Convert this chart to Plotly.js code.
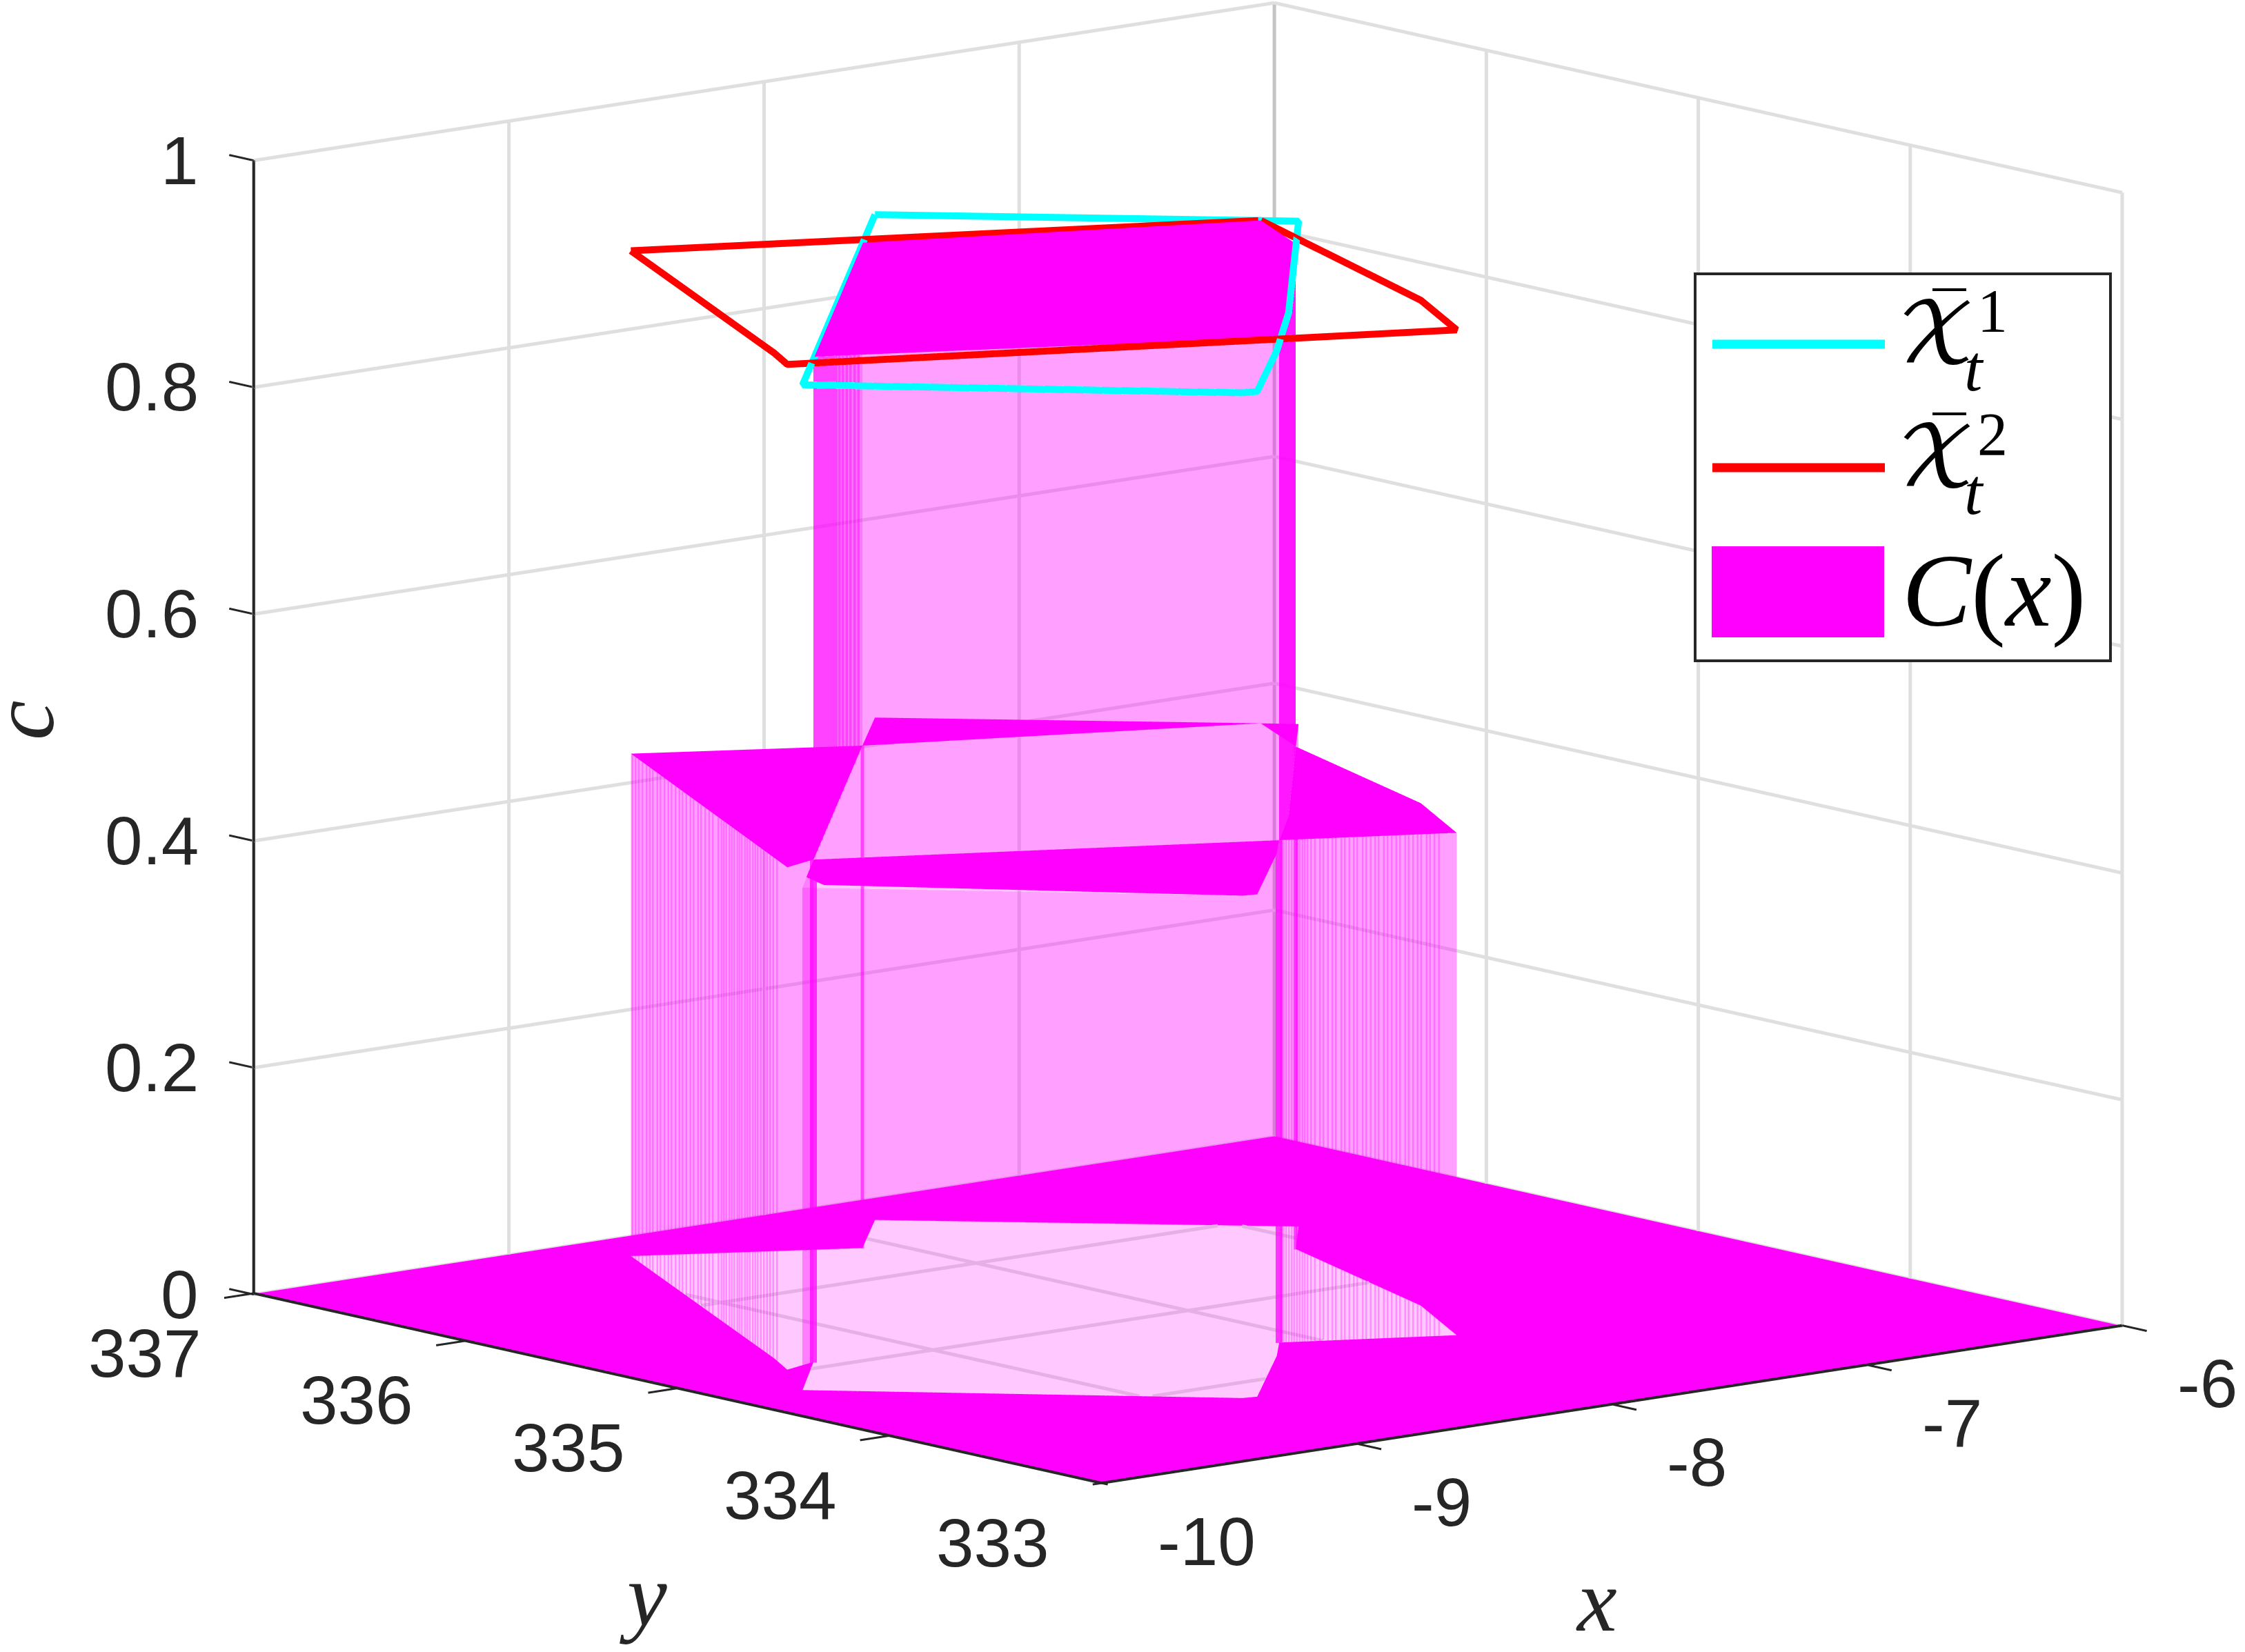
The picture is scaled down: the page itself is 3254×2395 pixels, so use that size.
<!DOCTYPE html>
<html><head><meta charset="utf-8">
<script src="https://cdn.plot.ly/plotly-3.0.1.min.js"></script>
<style>html,body{margin:0;padding:0;background:#fff}</style></head>
<body><div id="chart" style="width:3254px;height:2395px"></div>
<script>
const W=3254,H=2395;
const xTicks=[-10,-9,-8,-7,-6], xLabels=['-10','-9','-8','-7','-6'];
const yTicks=[333,334,335,336,337], yLabels=['333','334','335','336','337'];
const zTicks=[0,0.2,0.4,0.6,0.8,1], zLabels=['0','0.2','0.4','0.6','0.8','1'];
const topLevel=0.887, midLevel=0.4435, floorLevel=0.0005, axisLevel=0.001;
const redX=[-8.733,-9.461,-9.548,-7.638,-7.414,-6.958];
const redY=[336.746,335.193,335.027,334.168,334.607,335.911];
const cyanX=[-7.793,-6.878,-7.849,-8.270,-8.738,-8.786,-9.724];
const cyanY=[336.726,335.829,334.707,334.256,333.785,333.796,334.743];
const plateauX=[-8.113,-6.958,-7.118,-7.849,-8.126,-9.407];
const plateauY=[336.400,335.911,335.553,334.707,334.418,335.073];
const unionX=[-8.733,-8.113,-7.793,-6.878,-7.118,-7.414,-7.638,-8.126,-8.270,-8.738,-8.786,-9.724,-9.407,-9.548,-9.461];
const unionY=[336.746,336.400,336.726,335.829,335.553,334.607,334.168,334.418,334.256,333.785,333.796,334.743,335.073,335.027,335.193];
const midLeftX=[-8.733,-8.113,-9.407,-9.548,-9.461], midLeftY=[336.746,336.400,335.073,335.027,335.193];
const midBackX=[-6.958,-7.118,-6.878,-7.793,-8.113], midBackY=[335.911,335.553,335.829,336.726,336.400];
const midRightX=[-7.638,-8.126,-7.849,-7.118,-7.414], midRightY=[334.168,334.418,334.707,335.553,334.607];
const midFrontX=[-9.407,-8.126,-8.270,-8.738,-8.786,-9.646,-9.606], midFrontY=[335.073,334.418,334.256,333.785,333.796,334.737,334.867];
const floorX=[-10,-10,-6,-6], floorY=[337,333,333,337];
const leftStripes=[.01,.03,.05,.075,.1,.12,.14,.17,.19,.215,.24,.26,.285,.31,.33,.355,.38,.4,.43,.45,.475,.5,.525,.56,.58,.595,.61,.63,.645,.66,.68,.695,.71,.73,.745,.76,.78,.795,.81,.83,.85,.87,.89,.91,.935];
const rightStripes=[.1,.125,.15,.17,.2,.22,.245,.27,.29,.32,.34,.365,.39,.41,.44,.46,.485,.51,.53,.56,.58,.605,.63,.65,.68,.7,.725,.75,.77,.8,.82,.84,.855,.87,.885,.9,.915,.93,.945,.96,.975,.99];
const towerStripes=[.02,.07,.12,.17,.22,.27,.32,.37,.42,.47,.53,.6,.68,.76,.84,.92];
const tickReach=0.116;

function closed(a){return a.concat([a[0]]);}
function addFan(m,xs,ys,z){const b=m.x.length;xs.forEach((v,n)=>{m.x.push(v);m.y.push(ys[n]);m.z.push(z);});
  for(let n=1;n<xs.length-1;n++){m.i.push(b);m.j.push(b+n);m.k.push(b+n+1);}}
function addWall(m,xs,ys,z0,z1,loop){const b=m.x.length,n=xs.length;
  xs.forEach((v,q)=>{m.x.push(v,v);m.y.push(ys[q],ys[q]);m.z.push(z0,z1);});
  for(let q=0;q<(loop?n:n-1);q++){const r=(q+1)%n;m.i.push(b+2*q,b+2*q+1);m.j.push(b+2*q+1,b+2*r+1);m.k.push(b+2*r,b+2*r);}}
const cross=(a,b,c)=>(b[0]-a[0])*(c[1]-a[1])-(b[1]-a[1])*(c[0]-a[0]);
const same=(a,b)=>a[0]===b[0]&&a[1]===b[1];
function addFloorWithHole(m,ox,oy,hx,hy,z){
  const poly=[];ox.forEach((v,n)=>poly.push([v,oy[n]]));poly.push([ox[0],oy[0]]);
  hx.forEach((v,n)=>poly.push([v,hy[n]]));poly.push([hx[0],hy[0]]);
  const b=m.x.length;poly.forEach(p=>{m.x.push(p[0]);m.y.push(p[1]);m.z.push(z);});
  let idx=poly.map((_,n)=>n),guard=0;
  while(idx.length>3&&guard++<2000){let done=false;
    for(let n=0;n<idx.length;n++){
      const ia=idx[(n+idx.length-1)%idx.length],ib=idx[n],ic=idx[(n+1)%idx.length];
      const a=poly[ia],c=poly[ib],d=poly[ic];
      if(cross(a,c,d)<=1e-9)continue;
      const bad=idx.some(q=>{const v=poly[q];if(same(v,a)||same(v,c)||same(v,d))return false;
        return cross(a,c,v)>=0&&cross(c,d,v)>=0&&cross(d,a,v)>=0;});
      if(bad)continue;
      m.i.push(b+ia);m.j.push(b+ib);m.k.push(b+ic);idx.splice(n,1);done=true;break;}
    if(!done)break;}
  if(idx.length===3){m.i.push(b+idx[0]);m.j.push(b+idx[1]);m.k.push(b+idx[2]);}
}
function insideUnion(x,y){let c=false;const n=unionX.length;for(let a=0,b=n-1;a<n;b=a++){
  if((unionY[a]>y)!==(unionY[b]>y)&&x<(unionX[b]-unionX[a])*(y-unionY[a])/(unionY[b]-unionY[a])+unionX[a])c=!c;}return c;}
function clipToHole(x0,y0,x1,y1){const ts=[0,1],n=unionX.length;
  for(let a=0;a<n;a++){const b=(a+1)%n,dx=x1-x0,dy=y1-y0,ex=unionX[b]-unionX[a],ey=unionY[b]-unionY[a],den=dx*ey-dy*ex;
    if(Math.abs(den)<1e-12)continue;
    const t=((unionX[a]-x0)*ey-(unionY[a]-y0)*ex)/den,u=((unionX[a]-x0)*dy-(unionY[a]-y0)*dx)/den;
    if(t>0&&t<1&&u>=0&&u<=1)ts.push(t);}
  ts.sort((p,q)=>p-q);const out=[];
  for(let e=0;e<ts.length-1;e++){const tm=(ts[e]+ts[e+1])/2;
    if(insideUnion(x0+(x1-x0)*tm,y0+(y1-y0)*tm))out.push([x0+(x1-x0)*ts[e],y0+(y1-y0)*ts[e],0,x0+(x1-x0)*ts[e+1],y0+(y1-y0)*ts[e+1],0]);}
  return out;}
function meshTrace(m,op,name){return Object.assign({type:'mesh3d',color:'#ff00ff',opacity:op,flatshading:true,name:name,showlegend:false,hoverinfo:'skip',showscale:false,
  lighting:{ambient:1,diffuse:0,specular:0,fresnel:0,roughness:1},lightposition:{x:0,y:0,z:1e5}},m);}
const empty=()=>({x:[],y:[],z:[],i:[],j:[],k:[]});

const solid=empty();
addFan(solid,plateauX,plateauY,topLevel);
addFan(solid,midLeftX,midLeftY,midLevel);
addFan(solid,midBackX,midBackY,midLevel);
addFan(solid,midRightX,midRightY,midLevel);
addFan(solid,midFrontX,midFrontY,midLevel);
addFloorWithHole(solid,floorX,floorY,unionX,unionY,floorLevel);

const walls=empty();
addWall(walls,unionX,unionY,0,midLevel,true);
addWall(walls,plateauX,plateauY,midLevel,topLevel,true);

const leftBand=empty();
addWall(leftBand,[plateauX[5],plateauX[0]],[plateauY[5],plateauY[0]],midLevel,topLevel,false);
const rightBand=empty();
addWall(rightBand,[plateauX[4],plateauX[3],plateauX[2]],[plateauY[4],plateauY[3],plateauY[2]],midLevel,topLevel,false);

function segs(list){const o={x:[],y:[],z:[]};list.forEach(s=>{o.x.push(s[0],s[3],null);o.y.push(s[1],s[4],null);o.z.push(s[2],s[5],null);});return o;}
function stripeLine(x0,y0,x1,y1,ts,z0,z1){return segs(ts.map(t=>{const X=x0+(x1-x0)*t,Y=y0+(y1-y0)*t;return [X,Y,z0,X,Y,z1];}));}
function lineTrace(o,color,width,op,name){return {type:'scatter3d',mode:'lines',x:o.x,y:o.y,z:o.z,name:name,showlegend:false,hoverinfo:'skip',opacity:op,line:{color:color,width:width}};}
const posts=(idx,w,op)=>lineTrace(segs(idx.map(n=>[plateauX[n],plateauY[n],0,plateauX[n],plateauY[n],midLevel])),'#ff00ff',w,op,'edge');

const xMin=xTicks[0],xMax=xTicks[4],yMin=yTicks[0],yMax=yTicks[4],zMax=zTicks[5];
const gridList=[[xMin,yMax,0,xMax,yMax,0],[xMax,yMin,0,xMax,yMax,0]];
xTicks.forEach(v=>{gridList.push([v,yMax,0,v,yMax,zMax]);gridList.push(...clipToHole(v,yMin,v,yMax));});
yTicks.forEach(v=>{gridList.push([xMax,v,0,xMax,v,zMax]);gridList.push(...clipToHole(xMin,v,xMax,v));});
zTicks.forEach(v=>{gridList.push([xMin,yMax,v,xMax,yMax,v],[xMax,yMin,v,xMax,yMax,v]);});
const axisList=[[xMin,yMax,axisLevel,xMin,yMax,zMax],[xMin,yMin,axisLevel,xMin,yMax,axisLevel],[xMin,yMin,axisLevel,xMax,yMin,axisLevel]];
const tickList=[];
xTicks.forEach(v=>tickList.push([v,yMin,axisLevel,v,yMin-tickReach,axisLevel]));
yTicks.forEach(v=>tickList.push([xMin,v,axisLevel,xMin-tickReach,v,axisLevel]));
zTicks.forEach(v=>tickList.push([xMin,yMax,v,xMin,yMax+tickReach,v]));

const traces=[
 lineTrace(segs(gridList),'#dfdfdf',10,1,'grid'),
 lineTrace(segs([[xMax,yMax,0,xMax,yMax,zMax]]),'#c4c4c4',10,1,'grid'),
 meshTrace(solid,1,'C(x)'),
 lineTrace(segs(axisList),'#262626',8,1,'axes'),
 lineTrace(segs(tickList),'#262626',6,1,'ticks'),
 meshTrace(walls,0.21,'C(x) walls'),
 meshTrace(leftBand,0.25,'C(x) side'),
 meshTrace(rightBand,0.85,'C(x) side'),
 lineTrace(stripeLine(plateauX[5],plateauY[5],plateauX[0],plateauY[0],towerStripes,midLevel,topLevel),'#ff00ff',7,0.45,'stripes'),
 lineTrace(stripeLine(redX[0],redY[0],redX[2],redY[2],leftStripes,0,midLevel),'#ff00ff',5,0.3,'stripes'),
 lineTrace(stripeLine(redX[3],redY[3],plateauX[4],plateauY[4],rightStripes,0,midLevel),'#ff00ff',5,0.3,'stripes'),
 posts([5,4],20,0.75),
 posts([0,2],10,0.6),
 {type:'scatter3d',mode:'lines',x:closed(cyanX),y:closed(cyanY),z:closed(cyanX).map(()=>topLevel),name:'X1',showlegend:false,hoverinfo:'skip',line:{color:'#00ffff',width:20}},
 {type:'scatter3d',mode:'lines',x:closed(redX),y:closed(redY),z:closed(redX).map(()=>topLevel),name:'X2',showlegend:false,hoverinfo:'skip',line:{color:'#ff0000',width:20}}
];

const axisBase={visible:false,showticklabels:false,ticks:'',showline:false,showgrid:false,zeroline:false,showbackground:false,showspikes:false,title:{text:''},autorange:false};
const TF={family:'Liberation Sans, Arial, sans-serif',size:98,color:'#262626'};
const MF={family:'Liberation Serif, serif',size:130,color:'#262626'};
const sceneAnn=[];
xTicks.forEach((v,n)=>sceneAnn.push({x:v,y:yMin,z:0,text:xLabels[n],showarrow:false,xanchor:'center',yanchor:'middle',xshift:n==0?152:123,yshift:-83,font:TF}));
yTicks.forEach((v,n)=>sceneAnn.push({x:xMin,y:v,z:0,text:yLabels[n],showarrow:false,xanchor:'center',yanchor:'middle',xshift:-158,yshift:-85,font:TF}));
zTicks.forEach((v,n)=>sceneAnn.push({x:xMin,y:yMax,z:v,text:zLabels[n],showarrow:false,xanchor:'right',yanchor:'middle',xshift:-78,yshift:0,font:TF}));

const look={x:-0.0728,y:0.0364,z:-0.0981};
const dir={x:-0.628,y:-0.756,z:0.186};
const eye={x:look.x+dir.x,y:look.y+dir.y,z:look.z+dir.z};
const px=v=>v/W, py=v=>1-v/H;
const lg=(x,y,text,size,fam,color)=>({xref:'paper',yref:'paper',x:px(x),y:py(y),text:text,showarrow:false,xanchor:'center',yanchor:'middle',font:{family:fam,size:size,color:color||'#000'}});
const mathFam='DejaVu Math TeX Gyre, DejaVu Serif, Liberation Serif, serif';
const serif='Liberation Serif, serif';
const lenX=xMax-xMin, s=1.606;
const layout={width:W,height:H,margin:{l:0,r:0,t:0,b:0},paper_bgcolor:'#fff',showlegend:false,
 scene:{domain:{x:[0,1],y:[0,1]},aspectmode:'manual',
  aspectratio:{x:s*(lenX+2*tickReach)/lenX,y:s*(lenX+2*tickReach)/lenX,z:s*0.87},
  camera:{eye:eye,center:look,up:{x:0,y:0,z:1},projection:{type:'orthographic'}},
  xaxis:Object.assign({},axisBase,{range:[xMin-tickReach,xMax+tickReach],tickvals:xTicks,ticktext:xLabels}),
  yaxis:Object.assign({},axisBase,{range:[yMin-tickReach,yMax+tickReach],tickvals:yTicks,ticktext:yLabels}),
  zaxis:Object.assign({},axisBase,{range:[0,zMax],tickvals:zTicks,ticktext:zLabels}),
  annotations:sceneAnn},
 shapes:[
  {type:'rect',xref:'paper',yref:'paper',x0:px(2457),x1:px(3059),y0:py(397),y1:py(958),line:{color:'#262626',width:4},fillcolor:'#fff'},
  {type:'line',xref:'paper',yref:'paper',x0:px(2482),x1:px(2732),y0:py(499),y1:py(499),line:{color:'#00ffff',width:13}},
  {type:'line',xref:'paper',yref:'paper',x0:px(2482),x1:px(2732),y0:py(678),y1:py(678),line:{color:'#ff0000',width:13}},
  {type:'rect',xref:'paper',yref:'paper',x0:px(2481),x1:px(2731),y0:py(792),y1:py(924),line:{width:0},fillcolor:'#ff00ff'},
  {type:'line',xref:'paper',yref:'paper',x0:px(2801),x1:px(2850),y0:py(420),y1:py(420),line:{color:'#000',width:4}},
  {type:'line',xref:'paper',yref:'paper',x0:px(2801),x1:px(2850),y0:py(600),y1:py(600),line:{color:'#000',width:4}}
 ],
 annotations:[
  lg(2807,490,'\u{1D4B3}',120,mathFam),lg(2888,450,'1',88,serif),lg(2861,534,'<i>t</i>',95,serif),
  lg(2807,669,'\u{1D4B3}',120,mathFam),lg(2888,629,'2',88,serif),lg(2861,713,'<i>t</i>',95,serif),
  lg(2890,856,'<i>C</i>(<i>x</i>)',150,serif),
  {xref:'paper',yref:'paper',x:px(932),y:py(2312),text:'<i>y</i>',showarrow:false,xanchor:'center',yanchor:'middle',font:MF},
  {xref:'paper',yref:'paper',x:px(2314),y:py(2320),text:'<i>x</i>',showarrow:false,xanchor:'center',yanchor:'middle',font:MF},
  {xref:'paper',yref:'paper',x:px(33),y:py(1044),text:'<i>c</i>',showarrow:false,xanchor:'center',yanchor:'middle',textangle:-90,font:MF}
 ]};
Plotly.newPlot('chart',traces,layout,{displayModeBar:false});
</script></body></html>
